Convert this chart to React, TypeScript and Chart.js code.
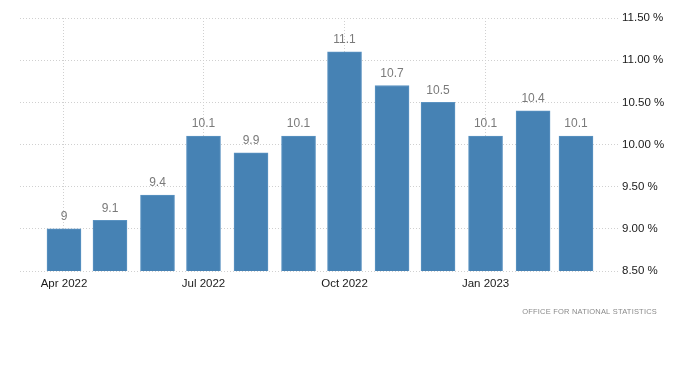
import React, { useEffect, useRef } from "react";
import { Chart, registerables } from "chart.js";

Chart.register(...registerables);

const months: string[] = [
  "2022-04-01", "2022-05-01", "2022-06-01", "2022-07-01", "2022-08-01", "2022-09-01",
  "2022-10-01", "2022-11-01", "2022-12-01", "2023-01-01", "2023-02-01", "2023-03-01",
];
const values: number[] = [9, 9.1, 9.4, 10.1, 9.9, 10.1, 11.1, 10.7, 10.5, 10.1, 10.4, 10.1];
const tickDates: string[] = ["2022-04-01", "2022-07-01", "2022-10-01", "2023-01-01"];
const tickLabels: string[] = ["Apr 2022", "Jul 2022", "Oct 2022", "Jan 2023"];
const yTicks: number[] = [8.5, 9, 9.5, 10, 10.5, 11, 11.5];
const sourceText = "OFFICE FOR NATIONAL STATISTICS";

const DAY = 86400000;
const base = Date.UTC(2022, 3, 1);
const toDay = (s: string) => (Date.parse(s + "T00:00:00Z") - base) / DAY;

const FONT = "'Liberation Sans', Arial, sans-serif";

export default function App() {
  const ref = useRef<HTMLCanvasElement | null>(null);
  useEffect(() => {
    if (!ref.current) return;
    const tickDays = tickDates.map(toDay);
    const labelsPlugin = {
      id: "labels",
      afterDatasetsDraw(chart: any) {
        const ctx = chart.ctx;
        const meta = chart.getDatasetMeta(0);
        ctx.save();
        ctx.font = `12px ${FONT}`;
        ctx.fillStyle = "#7a7a7a";
        ctx.textAlign = "center";
        ctx.textBaseline = "middle";
        meta.data.forEach((el: any, i: number) => {
          ctx.fillText(String(values[i]), el.x, el.y - 12);
        });
        ctx.restore();
      },
      afterDraw(chart: any) {
        const ctx = chart.ctx;
        ctx.save();
        ctx.font = `7.5px ${FONT}`;
        (ctx as any).letterSpacing = "0.2px";
        ctx.fillStyle = "#8a8a8a";
        ctx.textAlign = "right";
        ctx.textBaseline = "middle";
        ctx.fillText(sourceText, 657, 312);
        ctx.restore();
      },
    };
    const chart = new Chart(ref.current, {
      type: "bar",
      data: {
        datasets: [
          {
            data: months.map((m, i) => ({ x: toDay(m), y: values[i] })),
            backgroundColor: "#4682b4",
            borderColor: "#5b93c2",
            borderWidth: 1,
            barThickness: 34,
          },
        ],
      },
      options: {
        responsive: false,
        animation: false,
        events: [],
        layout: { padding: { top: 18, left: 20, right: 0, bottom: 0 } },
        plugins: { legend: { display: false }, tooltip: { enabled: false } },
        scales: {
          x: {
            type: "linear",
            min: -28.7,
            max: 361.4,
            offset: false,
            afterFit: (s: any) => { s.height = 103; },
            afterBuildTicks: (s: any) => { s.ticks = tickDays.map((v) => ({ value: v })); },
            grid: { color: "#d0d0d0", drawTicks: false, offset: false } as any,
            border: { display: false, dash: [1, 2] } as any,
            ticks: {
              autoSkip: false,
              maxRotation: 0,
              padding: 6,
              color: "#1a1a1a",
              font: { family: FONT, size: 11.5 },
              callback: (v: any) => {
                const idx = tickDays.indexOf(Number(v));
                return idx >= 0 ? tickLabels[idx] : "";
              },
            },
          },
          y: {
            position: "right",
            min: 8.5,
            max: 11.5,
            afterFit: (s: any) => { s.width = 82; },
            afterBuildTicks: (s: any) => { s.ticks = yTicks.map((v) => ({ value: v })); },
            grid: { color: "#d0d0d0", drawTicks: false } as any,
            border: { display: false, dash: [1, 2] } as any,
            ticks: {
              padding: 4,
              color: "#1a1a1a",
              font: { family: FONT, size: 11.5 },
              callback: (v: any) => Number(v).toFixed(2) + " %",
            },
          },
        },
      } as any,
      plugins: [labelsPlugin],
    });
    return () => chart.destroy();
  }, []);
  return (
    <div style={{ position: "fixed", left: 0, top: 0, width: 700, height: 374, background: "#fff" }}>
      <canvas ref={ref} width={700} height={374} />
    </div>
  );
}
